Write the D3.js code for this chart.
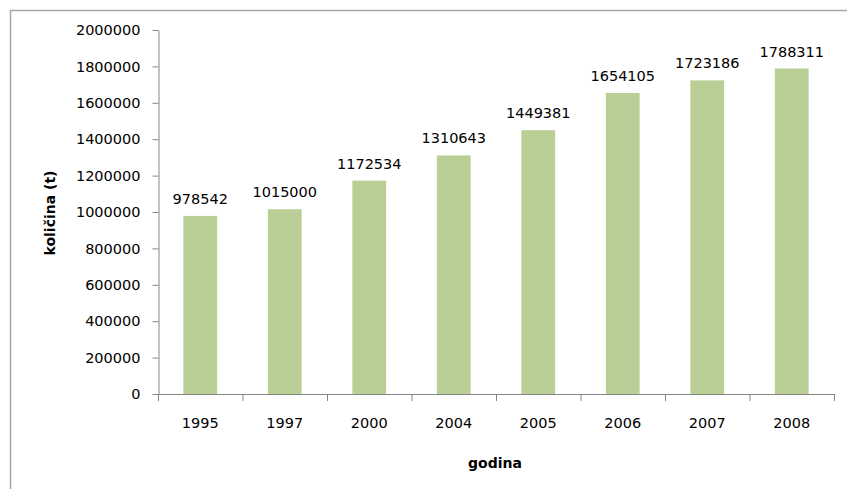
<!DOCTYPE html>
<html>
<head>
    <meta charset="utf-8">
    <title>Količina po godinama</title>
    <script src="https://d3js.org/d3.v7.min.js"></script>
    <style>
        body { margin: 0; background: #fff; }
        .tick text { font-family: "DejaVu Sans", sans-serif; font-size: 14.5px; fill: #000; }
        .lbl { font-family: "DejaVu Sans", sans-serif; font-size: 14.5px; fill: #000; }
        .title { font-family: "DejaVu Sans", sans-serif; font-size: 14px; font-weight: bold; fill: #000; }
    </style>
</head>
<body>
    <svg id="chart" width="847" height="489"></svg>
    <script>
        // godine i kolicine (t)
        var years = ["1995", "1997", "2000", "2004", "2005", "2006", "2007", "2008"];
        var amounts = [978542, 1015000, 1172534, 1310643, 1449381, 1654105, 1723186, 1788311];
        var yTicks = [0, 200000, 400000, 600000, 800000, 1000000, 1200000, 1400000, 1600000, 1800000, 2000000];

        var svg = d3.select("#chart");

        // outer frame (cut off at right/bottom like the screenshot)
        svg.append("rect")
            .attr("x", 10.5).attr("y", 10.5)
            .attr("width", 900).attr("height", 600)
            .attr("fill", "none")
            .attr("stroke", "#a6a6a6")
            .attr("stroke-width", 1.5);

        var plot = { left: 158, right: 834, top: 30, bottom: 394 };

        var x = d3.scaleBand().domain(years).range([plot.left, plot.right]).paddingInner(0.6).paddingOuter(0.3);
        var y = d3.scaleLinear().domain([0, 2000000]).range([plot.bottom, plot.top]);

        var xAxis = svg.append("g")
            .attr("transform", "translate(0," + plot.bottom + ")")
            .call(d3.axisBottom(x).tickSize(0).tickPadding(24));
        xAxis.select(".domain").attr("stroke", "#868686").attr("d", "M" + plot.left + ",0.5H" + plot.right);

        // category boundary ticks
        var bounds = years.map(function (d, i) { return plot.left + i * (plot.right - plot.left) / years.length; });
        bounds.push(plot.right);
        svg.append("g").selectAll("line").data(bounds).enter().append("line")
            .attr("x1", function (d) { return d + 0.5; }).attr("x2", function (d) { return d + 0.5; })
            .attr("y1", plot.bottom).attr("y2", plot.bottom + 7)
            .attr("stroke", "#868686");

        var yAxis = svg.append("g")
            .attr("transform", "translate(" + (plot.left + 0.5) + ",0)")
            .call(d3.axisLeft(y).tickValues(yTicks).tickFormat(d3.format("d")).tickSize(6).tickSizeOuter(0).tickPadding(12));
        yAxis.select(".domain").attr("stroke", "#868686");
        yAxis.selectAll(".tick line").attr("stroke", "#868686");

        svg.append("g").selectAll("rect").data(amounts).enter().append("rect")
            .attr("x", function (d, i) { return x(years[i]); })
            .attr("y", function (d) { return y(d); })
            .attr("width", x.bandwidth())
            .attr("height", function (d) { return plot.bottom - y(d); })
            .attr("fill", "#b9cf96");

        svg.append("g").selectAll("text").data(amounts).enter().append("text")
            .attr("class", "lbl")
            .attr("x", function (d, i) { return x(years[i]) + x.bandwidth() / 2; })
            .attr("y", function (d) { return y(d) - 12; })
            .attr("text-anchor", "middle")
            .text(function (d) { return d; });

        svg.append("text")
            .attr("class", "title")
            .attr("x", 495).attr("y", 468)
            .attr("text-anchor", "middle")
            .text("godina");

        svg.append("text")
            .attr("class", "title")
            .attr("transform", "translate(55,213) rotate(-90)")
            .attr("text-anchor", "middle")
            .text("količina  (t)");
    </script>
</body>
</html>
